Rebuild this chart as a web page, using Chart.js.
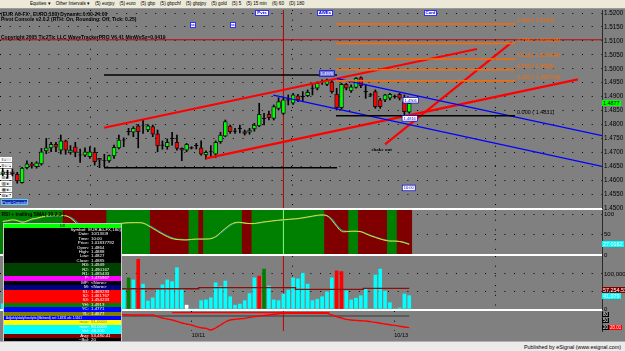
<!DOCTYPE html>
<html>
<head>
<meta charset="utf-8">
<title>EUR A0-FX 180</title>
<script src="https://cdn.jsdelivr.net/npm/chart.js@4.4.1/dist/chart.umd.min.js"></script>
<style>
  html, body { margin: 0; padding: 0; }
  body { width: 625px; height: 351px; overflow: hidden; position: relative; background: #808080;
         font-family: "Liberation Sans", Arial, sans-serif; }
  canvas { position: absolute; left: 0; }
  .abs { position: absolute; white-space: nowrap; }
  #toolbar { position: absolute; left: 0; top: 0; width: 625px; height: 9px; background: #ece9d8;
             border-bottom: 1px solid #9a9a9a; box-sizing: border-box; font-size: 4.6px; line-height: 8px;
             display: flex; gap: 5px; padding-left: 30px; color: #000; }
  .hdr { left: 1px; font-size: 5px; font-weight: bold; color: #000; }
  .btn { background: #fff; border: 1px solid #3030ff; color: #0000c0; font-size: 4.4px; font-weight: bold;
         line-height: 4px; text-align: center; box-sizing: border-box; }
  .side { left: 0; width: 12px; height: 5px; background: #e4e4e4; border: 0.5px solid #fff;
          box-sizing: border-box; font-size: 3.6px; line-height: 4px; color: #000; padding-left: 1px; }
  .sep { left: 0; width: 602px; background: #fff; }
  .tag { left: 602px; font-size: 5.4px; line-height: 6px; padding: 0 1px; }
  #info { left: 4px; top: 223.5px; width: 117px; outline: 0.5px solid #c8c8c8; font-size: 4.4px; line-height: 4.4px; }
  #info .ln { display: flex; }
  #info .k { width: 85px; text-align: right; }
  #info .v { padding-left: 2px; }
  #footer { left: 0; top: 341px; width: 625px; height: 10px; background: #ebebeb; border-top: 1px solid #b0b0b0;
            box-sizing: border-box; }
  #pub { right: 4px; top: 343.5px; font-size: 5.4px; color: #000; }
</style>
</head>
<body>

<div id="toolbar">
  <span>Equities ▾</span><span>Other Intervals ▾</span><span>(5) eurjpy</span><span>(5) euro</span>
  <span>(5) gbp</span><span>(5) gbpchf</span><span>(5) gbpjpy</span><span>(5) gold</span>
  <span>(5) 5</span><span>(5) 15 min</span><span>(6) 60</span><span>(D) 180</span>
</div>

<!-- chart side buttons (sit under the candles) -->
<div class="abs side" style="top:157px">I +</div>
<div class="abs side" style="top:163px">Il +</div>
<div class="abs side" style="top:169px">II +</div>
<div class="abs side" style="top:175px">III ▸</div>
<div class="abs side" style="top:181px">▥ ▸</div>
<div class="abs side" style="top:187px">▦ ▸</div>
<div class="abs side" style="top:193px">Ш ▸</div>

<canvas id="priceChart" width="625" height="202" style="top:10px"></canvas>
<canvas id="rsiChart" width="625" height="49" style="top:210px"></canvas>
<canvas id="volChart" width="625" height="57" style="top:256px"></canvas>
<canvas id="oscChart" width="625" height="30" style="top:311px"></canvas>

<div class="abs sep" style="top:208px;height:2px"></div>
<div class="abs sep" style="top:254px;height:2px"></div>
<div class="abs sep" style="top:309px;height:2px"></div>

<div class="abs hdr" style="top:10.5px">(EUR A0-FX , EURO,180) Dynamic:0:00-24:00</div>
<div class="abs hdr" style="top:16px">Pivot Console v2.0.2 (RTH: On, Rounding: Off, Tick: 0.25)</div>
<div class="abs hdr" style="top:33.5px">Copyright 2005 Tic2Tic LLC WaveTrackerPRO V6.41 MinWvSz=0.0419</div>

<div class="abs btn" style="left:255px;top:9.5px;width:14px;height:6px">Pvts</div>
<div class="abs btn" style="left:317px;top:9.5px;width:16px;height:6px">AWEs</div>
<div class="abs btn" style="left:424px;top:9.5px;width:13px;height:6px">Conf</div>
<div class="abs btn" style="left:190px;top:22px;width:6px;height:6px;font-size:3px">ss</div>
<div class="abs btn" style="left:230px;top:22px;width:6px;height:6px;font-size:3px">ss</div>

<div class="abs" style="left:1px;top:199px;width:27px;height:6px;background:#1030b0;border:0.5px solid #60c8ff;box-sizing:border-box;color:#bfe4ff;font-size:4.2px;line-height:5px;text-align:center">Pivot Console</div>
<div class="abs" style="left:1.5px;top:211px;font-size:5px;font-weight:bold;color:#000">RSI + trailing SMA( 10,2,2 )</div>

<div class="abs tag" style="top:100px;background:#00ff00;color:#000">1.4877</div>
<div class="abs tag" style="top:241px;background:#00ffff;color:#fff">27.0162</div>
<div class="abs tag" style="top:286.5px;background:#800000;color:#fff">57,254.53</div>
<div class="abs tag" style="top:292.5px;background:#00ffff;color:#fff">41,079</div>
<div class="abs tag" style="top:312px;background:#000;color:#fff;font-size:4.5px;line-height:5px">80</div>
<div class="abs tag" style="top:318px;background:#000;color:#fff;font-size:4.5px;line-height:5px">50</div>
<div class="abs tag" style="top:325px;background:#000;color:#fff;font-size:4.5px;line-height:5px">20</div>
<div class="abs tag" style="left:609px;top:325px;background:#ff0000;color:#fff;font-size:4.5px;line-height:5px">20.01</div>

<div id="info" class="abs"></div>
<div id="footer" class="abs"></div>
<div id="pub" class="abs">Published by eSignal (www.esignal.com)</div>

<script>
// --- Price data (180 min bars, EUR A0-FX) ---
const opens = [
  1.4622, 1.4625, 1.4630, 1.4621, 1.4591, 1.4645, 1.4659, 1.4648, 1.4658, 1.4705,
  1.4716, 1.4729, 1.4708, 1.4741, 1.4700, 1.4720, 1.4690, 1.4690, 1.4684, 1.4700,
  1.4678, 1.4669, 1.4669, 1.4687, 1.4716, 1.4744, 1.4773, 1.4772, 1.4795, 1.4798,
  1.4780, 1.4792, 1.4766, 1.4725, 1.4720, 1.4749, 1.4736, 1.4714, 1.4708, 1.4715,
  1.4723, 1.4716, 1.4691, 1.4701, 1.4693, 1.4738, 1.4758, 1.4794, 1.4777, 1.4785,
  1.4774, 1.4772, 1.4784, 1.4795, 1.4821, 1.4836, 1.4822, 1.4858, 1.4840, 1.4887,
  1.4876, 1.4903, 1.4899, 1.4903, 1.4929, 1.4930, 1.4952, 1.4944, 1.4953, 1.4908,
  1.4860, 1.4944, 1.4920, 1.4933, 1.4968, 1.4917, 1.4905, 1.4918, 1.4888, 1.4888,
  1.4894, 1.4899, 1.4908, 1.4882, 1.4844
];
const highs = [
  1.4643, 1.4636, 1.4640, 1.4628, 1.4646, 1.4669, 1.4664, 1.4666, 1.4714, 1.4750,
  1.4736, 1.4736, 1.4762, 1.4744, 1.4724, 1.4736, 1.4712, 1.4716, 1.4720, 1.4716,
  1.4678, 1.4693, 1.4690, 1.4726, 1.4762, 1.4752, 1.4786, 1.4792, 1.4800, 1.4816,
  1.4800, 1.4798, 1.4780, 1.4741, 1.4748, 1.4772, 1.4762, 1.4716, 1.4732, 1.4720,
  1.4732, 1.4741, 1.4705, 1.4724, 1.4741, 1.4772, 1.4816, 1.4798, 1.4786, 1.4798,
  1.4780, 1.4786, 1.4804, 1.4876, 1.4840, 1.4848, 1.4870, 1.4896, 1.4894, 1.4906,
  1.4912, 1.4908, 1.4918, 1.4924, 1.4948, 1.4953, 1.4960, 1.4963, 1.4960, 1.4930,
  1.4948, 1.4948, 1.4942, 1.4968, 1.4971, 1.4942, 1.4912, 1.4924, 1.4894, 1.4908,
  1.4912, 1.4906, 1.4912, 1.4906, 1.4882
];
const lows = [
  1.4616, 1.4607, 1.4615, 1.4589, 1.4589, 1.4640, 1.4643, 1.4643, 1.4654, 1.4695,
  1.4702, 1.4702, 1.4694, 1.4693, 1.4693, 1.4684, 1.4664, 1.4684, 1.4678, 1.4654,
  1.4645, 1.4648, 1.4664, 1.4678, 1.4712, 1.4720, 1.4762, 1.4756, 1.4716, 1.4768,
  1.4774, 1.4756, 1.4702, 1.4711, 1.4711, 1.4726, 1.4708, 1.4670, 1.4702, 1.4712,
  1.4712, 1.4690, 1.4675, 1.4684, 1.4681, 1.4732, 1.4756, 1.4768, 1.4768, 1.4770,
  1.4762, 1.4765, 1.4776, 1.4792, 1.4798, 1.4816, 1.4816, 1.4852, 1.4836, 1.4870,
  1.4872, 1.4882, 1.4882, 1.4900, 1.4906, 1.4924, 1.4944, 1.4939, 1.4912, 1.4852,
  1.4855, 1.4924, 1.4915, 1.4930, 1.4932, 1.4894, 1.4900, 1.4858, 1.4858, 1.4882,
  1.4888, 1.4894, 1.4888, 1.4816, 1.4840
];
const closes = [
  1.4630, 1.4627, 1.4623, 1.4597, 1.4643, 1.4659, 1.4650, 1.4662, 1.4702, 1.4716,
  1.4729, 1.4718, 1.4741, 1.4708, 1.4708, 1.4700, 1.4691, 1.4702, 1.4702, 1.4666,
  1.4672, 1.4670, 1.4688, 1.4718, 1.4744, 1.4745, 1.4775, 1.4786, 1.4774, 1.4797,
  1.4795, 1.4765, 1.4723, 1.4727, 1.4736, 1.4751, 1.4714, 1.4708, 1.4729, 1.4717,
  1.4725, 1.4693, 1.4700, 1.4703, 1.4736, 1.4762, 1.4810, 1.4774, 1.4775, 1.4787,
  1.4768, 1.4780, 1.4798, 1.4836, 1.4823, 1.4824, 1.4864, 1.4882, 1.4888, 1.4889,
  1.4906, 1.4888, 1.4901, 1.4915, 1.4931, 1.4948, 1.4954, 1.4960, 1.4918, 1.4860,
  1.4944, 1.4930, 1.4935, 1.4966, 1.4939, 1.4919, 1.4907, 1.4864, 1.4864, 1.4906,
  1.4908, 1.4901, 1.4894, 1.4846, 1.4876
];

// --- Studies ---
const rsi = [
  82, 84, 86, 84, 80, 83, 88, 90, 93, 95,
  96, 96, 96, 96, 90, 80, 68, 62, 58, 57,
  57, 57, 60, 68, 76, 78, 79, 79, 79, 78,
  72, 65, 58, 51, 45, 40, 38, 37, 37, 38,
  39, 39, 39, 40, 45, 55, 65, 74, 79, 80,
  78, 77, 77, 79, 81, 82, 84, 85, 86, 87,
  88, 89, 91, 93, 95, 97, 98, 96, 85, 70,
  58, 57, 58, 58, 57, 52, 47, 43, 39, 36,
  34, 34, 33, 30, 26
];
const rsiSma = [
  83, 83, 85, 85, 82, 82, 86, 89, 92, 94,
  95, 96, 96, 96, 92, 84, 72, 64, 60, 58,
  57, 57, 59, 66, 74, 77, 78, 79, 79, 78,
  74, 67, 60, 53, 47, 42, 39, 38, 37, 38,
  38, 39, 39, 40, 44, 53, 63, 72, 78, 79,
  78, 77, 77, 78, 80, 82, 83, 85, 86, 87,
  88, 89, 90, 92, 94, 96, 97, 96, 88, 73,
  61, 58, 58, 58, 57, 53, 48, 44, 40, 37,
  35, 34, 33, 31, 27
];
// g = rising (green background), r = falling (dark red background)
const rsiTrend = ('ggggggggggggg' + 'rrrrrrrrr' + 'ggggggggg' + 'rrrrrrrr' + 'gg' + 'r' + 'gggggggg' + 'rr' +
                  'ggggggggggggggg' + 'rrrrr' + 'gg' + 'rrrrrr' + 'gg' + 'rrr').split('');

const volume = [
  15000, 42000, 38000, 61000, 95000, 52000, 33000, 28000, 47000, 88000,
  73000, 45000, 39000, 66000, 58000, 30000, 44000, 36000, 52000, 70000,
  48000, 41000, 35000, 55000, 62000, 54000, 89000, 83000, 142000, 71000,
  23000, 32000, 56000, 69000, 83000, 78000, 118000, 59000, 11000, 0,
  0, 24000, 26000, 32000, 75000, 64000, 80000, 35000, 11000, 14000,
  24000, 44000, 89000, 94000, 114000, 66000, 26000, 24000, 43000, 54000,
  89000, 86000, 102000, 71000, 24000, 28000, 35000, 49000, 89000, 109000,
  107000, 52000, 26000, 31000, 38000, 57000, 0, 97000, 114000, 51000,
  18000, 0, 3000, 43000, 38000
];
// c = normal, r = down spike, g = up spike, w = tiny
const volKind = ('ccccccccccccccccccccccccc' + 'cgcr' + 'ccccccccc' + 'w' + 'cccccccccccccc' + 'rg' +
                 'cccccccccccccc' + 'rr' + 'cccccccccccccc').split('');
const volAvg = [
  58000, 58000, 58000, 58000, 58000, 58000, 58000, 58000, 58000, 58000,
  58000, 58000, 58000, 58000, 58000, 58000, 58000, 58000, 58000, 58000,
  58000, 58000, 58000, 58000, 58000, 58000, 58000, 58000, 58000, 58000,
  58000, 58000, 58000, 58000, 58000, 58000, 58000, 58000, 58000, 58000,
  58000, 61000, 61000, 61000, 61000, 61000, 61000, 61000, 61000, 61000,
  61000, 61000, 61000, 61000, 61000, 61000, 61000, 61000, 61000, 61000,
  61000, 56000, 56000, 56000, 56000, 56000, 56000, 56000, 56000, 56000,
  56000, 56000, 56000, 56000, 56000, 59000, 59000, 59000, 59000, 59000,
  59000, 59000, 59000, 59000, 59000
];

const osc = [
  60, 62, 65, 70, 72, 75, 78, 80, 82, 83, 84, 85, 85, 84, 82, 80, 78, 78, 80, 82, 83, 84, 84, 83,
  83, 82, 81, 80, 80, 80, 80, 80, 72, 65, 60,
  55, 48, 40, 35, 30, 22, 16, 13, 5, 15,
  30, 45, 55, 58, 61, 63, 68, 72, 75, 78,
  80, 84, 86, 88, 88, 88, 88, 88, 88, 88,
  88, 88, 88, 80, 72, 65, 58, 55, 53, 51,
  50, 47, 43, 39, 35, 31, 28, 24, 20, 17
];
const oscCap = [[35, 92], [67.5, 92]];
const oscBase = [[24, 75], [84, 75]];

// --- Drawing tools (bar index, price) ---
const upperChannel = [[20.93, 1.47883], [98.0, 1.50708]];
const lowerChannel = [[42.0, 1.46784], [118.86, 1.49620]];
const shakeLine = [[79.0, 1.47287], [105.17, 1.50949]];
const blueUpper = [[69.07, 1.49649], [123.83, 1.47596]];
const blueLower = [[55.91, 1.49050], [123.83, 1.46497]];
const rangeTop = [[20.93, 1.49775], [69.07, 1.49775]];
const rangeBottom = [[20.93, 1.46447], [69.07, 1.46447]];
const fibSpan = [68.86, 105.85];
const fibPrices = [1.4831, 1.495706, 1.4996, 1.503494, 1.509038, 1.5161];
const fibLabels = ['0.000 ( 1.4831)', '0.382 ( 1.495706)', '0.500 ( 1.4996)', '0.618 ( 1.503494)',
                   '0.786 ( 1.509038)', '1.000 ( 1.5161)'];
const cursorBar = 58;
const cursorPrice = 1.5104;
const shakeNote = [78.3, 1.4711];
const priceTags = [[67, 1.4983, '1.4970'], [84.3, 1.4887, '1.4906'], [84.1, 1.4822, '1.4816'], [83.9, 1.4572, '10:00']];

// --- Axes ---
const xMin = -0.56, xMax = 123.83;
const priceMin = 1.45, priceMax = 1.5211;
const priceTicks = [1.45, 1.455, 1.46, 1.465, 1.47, 1.475, 1.48, 1.485, 1.49, 1.495, 1.50, 1.505, 1.51, 1.515, 1.52];
const rsiTicks = [0, 50, 100];
const volTicks = [0, 50000, 100000];
const dayTicks = [39.05, 80.9];
const dayLabels = ['10/11', '10/13'];

// --- Info panel ---
const infoRows = [
  ['#00ff00', '#000', ['DIl']],
  ['#000', '#fff', ['Symbol: EUR A0-FX,180)', 'Date: 10/13/09', 'Time: 10:00', 'Price: 1.01837792',
                    'Open: 1.4864', 'High: 1.4888', 'Low: 1.4827', 'Close: 1.4885']],
  ['#004000', '#fff', ['R3: 1.4949', 'R2: 1.490167', 'R1: 1.485433']],
  ['#ff00ff', '#fff', ['P: 1.475967']],
  ['#000', '#fff', ['MP: <None>']],
  ['#000080', '#fff', ['M: <None>']],
  ['#ff0000', '#fff', ['S1: 1.469233', 'S2: 1.461767', 'S3: 1.454233']],
  ['#008000', '#fff', ['YH: 1.4913']],
  ['#0000ff', '#fff', ['YC: 1.4771']],
  ['#808000', '#fff', ['YL: 1.4677']],
  ['#0000ff', '#fff', ['Adj(wkly/daily/hourly/tic)(fib/trend) set: 1.4831 wk: 1.5161']],
  ['#ffff00', '#808080', ['max: 91.0000']],
  ['#00ffff', '#fff', ['max: 80.0000', 'Vol: 46,200']],
  ['#800000', '#fff', ['Avg: 53,480.41']],
  ['#000', '#fff', ['~Bal: 20']]
];

const info = document.getElementById('info');
infoRows.forEach(([bg, fg, lines], r) => {
  const row = document.createElement('div');
  row.style.background = bg;
  row.style.color = fg;
  lines.forEach(t => {
    const ln = document.createElement('div');
    ln.className = 'ln';
    const cut = t.indexOf(': ');
    if (r === 0) {
      ln.style.justifyContent = 'center';
      ln.textContent = t;
    } else if (r === 10) {
      ln.style.fontSize = '3px';
      ln.style.paddingLeft = '2px';
      ln.textContent = t;
    } else {
      ln.innerHTML = '<span class="k"></span><span class="v"></span>';
      ln.firstChild.textContent = t.slice(0, cut + 1);
      ln.lastChild.textContent = t.slice(cut + 2);
    }
    row.appendChild(ln);
  });
  info.appendChild(row);
});

// --- Charts ---
Chart.defaults.font.family = '"Liberation Sans", Arial, sans-serif';
Chart.defaults.font.size = 6;
Chart.defaults.color = '#000';

const dots = [1, 8.7];
const fitRight = s => { s.width = 23; s.paddingTop = 0; s.paddingBottom = 0; };
const fitFlat = h => s => { s.height = h; s.paddingLeft = 0; s.paddingRight = 0; };

const seg = (pts, color, width, order) => ({
  type: 'line',
  data: pts.map(([x, y]) => ({ x, y })),
  borderColor: color,
  borderWidth: width,
  pointRadius: 0,
  order: order === undefined ? 1 : order
});

const dayAxis = (showLabels) => ({
  type: 'linear', min: xMin, max: xMax, offset: false,
  afterBuildTicks: s => { s.ticks = dayTicks.map(v => ({ value: v })); },
  ticks: {
    display: showLabels, align: 'start', autoSkip: false, maxRotation: 0, padding: 1,
    font: { size: 5.5 }, callback: (v, i) => dayLabels[i]
  },
  grid: { color: '#000', drawTicks: false },
  border: { display: false, dash: dots },
  afterFit: fitFlat(showLabels ? 10 : 0)
});

const baseOptions = (yScale, xScale, bottomPad) => ({
  responsive: false,
  animation: false,
  devicePixelRatio: 1,
  events: [],
  layout: { padding: { left: 0, right: 0, top: 0, bottom: bottomPad } },
  plugins: { legend: { display: false }, tooltip: { enabled: false } },
  scales: { x: xScale, y: yScale }
});

// notes on the price panel: fib labels, comment, price tags
const chartNotes = {
  id: 'chartNotes',
  afterDatasetsDraw(chart) {
    const { ctx, scales: { x, y } } = chart;
    ctx.save();
    ctx.font = '5.5px "Liberation Sans", Arial';
    ctx.textBaseline = 'bottom';
    fibPrices.forEach((p, k) => {
      ctx.fillStyle = k === 0 ? '#000' : '#ff6a00';
      ctx.fillText(fibLabels[k], x.getPixelForValue(fibSpan[1]) + 2, y.getPixelForValue(p) - 0.5);
    });
    ctx.fillStyle = '#000';
    ctx.textAlign = 'center';
    ctx.textBaseline = 'middle';
    ctx.font = 'bold 5px "Liberation Serif", serif';
    ctx.fillText('shake out', x.getPixelForValue(shakeNote[0]), y.getPixelForValue(shakeNote[1]));
    ctx.font = '4px "Liberation Sans", Arial';
    priceTags.forEach(([bar, price, text], k) => {
      const cx = x.getPixelForValue(bar), cy = y.getPixelForValue(price);
      const w = ctx.measureText(text).width + 3;
      ctx.fillStyle = k === 0 ? '#7878e8' : '#fff';
      ctx.strokeStyle = '#0000d0';
      ctx.lineWidth = 0.7;
      ctx.fillRect(cx - w / 2, cy - 2.8, w, 5.6);
      ctx.strokeRect(cx - w / 2, cy - 2.8, w, 5.6);
      ctx.fillStyle = k === 0 ? '#fff' : '#0000d0';
      ctx.fillText(text, cx, cy + 0.3);
    });
    ctx.restore();
  }
};

const bodyColor = opens.map((o, i) => Math.abs(closes[i] - o) < 0.00025 ? '#000' : (closes[i] > o ? '#00ff00' : '#ff0000'));

new Chart(document.getElementById('priceChart'), {
  type: 'bar',
  data: {
    datasets: [
      {
        data: highs.map((h, i) => ({ x: i, y: [lows[i], h] })),
        backgroundColor: '#000', barThickness: 1, grouped: false, order: 5
      },
      {
        data: opens.map((o, i) => ({ x: i, y: [o, closes[i]] })),
        backgroundColor: bodyColor, borderColor: 'rgba(0,0,0,0.75)', borderWidth: 1, borderSkipped: false,
        barThickness: 4, grouped: false, order: 4
      },
      seg([[cursorBar, priceMin], [cursorBar, priceMax]], '#b00000', 1, 6),
      seg([[xMin, cursorPrice], [xMax, cursorPrice]], '#c00000', 1, 6),
      seg(rangeTop, '#000', 1.5),
      seg(rangeBottom, '#000', 1.5),
      ...fibPrices.map((p, k) => seg([[fibSpan[0], p], [fibSpan[1], p]], k === 0 ? '#000' : '#ff6a00', 1.5)),
      seg(blueUpper, '#0000ff', 1.3),
      seg(blueLower, '#0000ff', 1.3),
      seg(upperChannel, '#ff0000', 2.2),
      seg(lowerChannel, '#ff0000', 2.2),
      seg(shakeLine, '#ff0000', 2.2)
    ]
  },
  options: baseOptions({
    position: 'right', min: priceMin, max: priceMax,
    afterBuildTicks: s => { s.ticks = priceTicks.map(v => ({ value: v })); },
    ticks: { padding: 2, font: { size: 6.3 }, callback: v => v.toFixed(4) },
    grid: { color: '#000', drawTicks: false },
    border: { display: true, color: '#2a2a2a', dash: dots },
    afterFit: fitRight
  }, dayAxis(false), 4),
  plugins: [chartNotes]
});

new Chart(document.getElementById('rsiChart'), {
  type: 'bar',
  data: {
    datasets: [
      {
        data: rsiTrend.map((t, i) => ({ x: i, y: [0, 110] })),
        backgroundColor: rsiTrend.map(t => t === 'g' ? '#008000' : '#800000'),
        barThickness: 5, grouped: false, order: 5
      },
      seg([[cursorBar, 0], [cursorBar, 110]], '#80ff80', 1, 4),
      { type: 'line', data: rsiSma.map((v, i) => ({ x: i, y: v })), borderColor: '#1c8cc8', borderWidth: 1.2,
        pointRadius: 0, tension: 0.4, order: 2 },
      { type: 'line', data: rsi.map((v, i) => ({ x: i, y: v })), borderColor: '#e8e800', borderWidth: 1,
        pointRadius: 0, tension: 0.4, order: 1 }
    ]
  },
  options: baseOptions({
    position: 'right', min: 0, max: 110,
    afterBuildTicks: s => { s.ticks = rsiTicks.map(v => ({ value: v })); },
    ticks: { padding: 2, font: { size: 6 } },
    grid: { color: '#000', drawTicks: false },
    border: { display: true, color: '#2a2a2a', dash: dots },
    afterFit: fitRight
  }, dayAxis(false), 4)
});

const volColor = { c: '#00ffff', r: '#ff0000', g: '#008000', w: '#ffffff' };
new Chart(document.getElementById('volChart'), {
  type: 'bar',
  data: {
    datasets: [
      {
        data: volume.map((v, i) => ({ x: i, y: v })),
        backgroundColor: volKind.map(k => volColor[k]),
        barThickness: 3, grouped: false, order: 3
      },
      seg([[cursorBar, 0], [cursorBar, 151400]], '#c00000', 1, 4),
      { type: 'line', data: volAvg.map((v, i) => ({ x: i, y: v })), borderColor: '#8a1010', borderWidth: 1.4,
        pointRadius: 0, stepped: 'middle', order: 1 }
    ]
  },
  options: baseOptions({
    position: 'right', min: 0, max: 151400,
    afterBuildTicks: s => { s.ticks = volTicks.map(v => ({ value: v })); },
    ticks: { padding: 2, font: { size: 6 }, callback: v => v === 50000 ? '' : v.toLocaleString('en-US') },
    grid: { color: '#000', drawTicks: false },
    border: { display: true, color: '#2a2a2a', dash: dots },
    afterFit: fitRight
  }, dayAxis(false), 4)
});

new Chart(document.getElementById('oscChart'), {
  type: 'line',
  data: {
    datasets: [
      seg([[cursorBar, 0], [cursorBar, 100]], '#c00000', 1, 5),
      seg(oscBase, '#383838', 1.2, 3),
      seg(oscCap, '#ff0000', 1.4, 2),
      { data: osc.map((v, i) => ({ x: i, y: v })), borderColor: '#ff0000', borderWidth: 1.4,
        pointRadius: 0, tension: 0.4, order: 1 }
    ]
  },
  options: baseOptions({
    position: 'right', min: 0, max: 100,
    ticks: { display: false },
    grid: { display: false },
    border: { display: true, color: '#2a2a2a' },
    afterFit: fitRight
  }, dayAxis(true), 0)
});
</script>
</body>
</html>
